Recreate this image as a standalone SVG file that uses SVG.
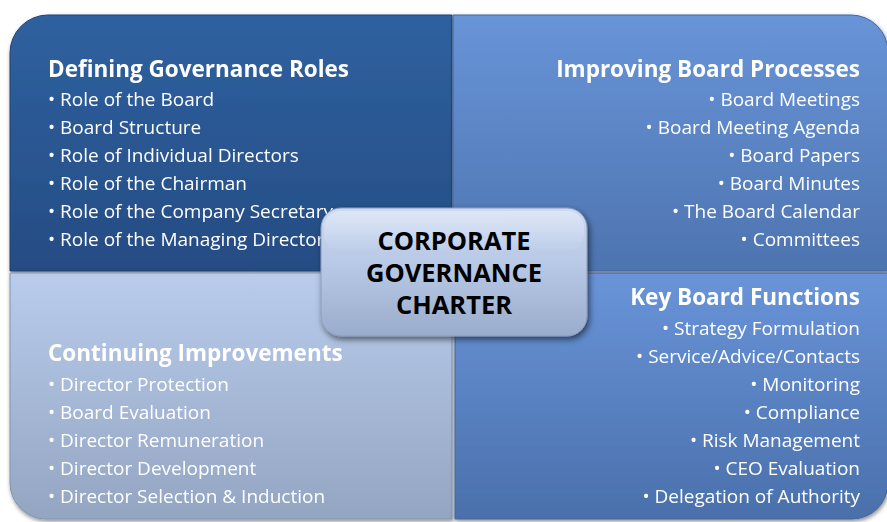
<svg xmlns="http://www.w3.org/2000/svg" width="887" height="522" viewBox="0 0 887 522">
<defs>
<linearGradient id="gTL" x1="0" y1="0" x2="0" y2="1"><stop offset="0" stop-color="#2F61A0"/><stop offset="1" stop-color="#254C83"/></linearGradient>
<linearGradient id="gTR" x1="0" y1="0" x2="0" y2="1"><stop offset="0" stop-color="#6894D8"/><stop offset="1" stop-color="#4D74AF"/></linearGradient>
<linearGradient id="gBL" x1="0" y1="0" x2="0" y2="1"><stop offset="0" stop-color="#B9CCEC"/><stop offset="1" stop-color="#93A5C1"/></linearGradient>
<linearGradient id="gBR" x1="0" y1="0" x2="0" y2="1"><stop offset="0" stop-color="#6994D9"/><stop offset="1" stop-color="#4A70AB"/></linearGradient>
<linearGradient id="gC" x1="0" y1="0" x2="0" y2="1"><stop offset="0" stop-color="#CCDAF2"/><stop offset="0.5" stop-color="#B5C6E4"/><stop offset="1" stop-color="#9AACCB"/></linearGradient>
<linearGradient id="hl" x1="0" y1="0" x2="0" y2="1"><stop offset="0" stop-color="#FFFFFF" stop-opacity="0.35"/><stop offset="1" stop-color="#FFFFFF" stop-opacity="0"/></linearGradient>
<filter id="sh" x="-10%" y="-10%" width="120%" height="120%"><feDropShadow dx="1" dy="2" stdDeviation="2" flood-color="#000" flood-opacity="0.45"/></filter>
<filter id="shc" x="-10%" y="-10%" width="125%" height="130%"><feDropShadow dx="2" dy="3" stdDeviation="3" flood-color="#000" flood-opacity="0.55"/></filter>
</defs>
<style>
text{font-family:"Open Sans","Noto Sans","DejaVu Sans",sans-serif;fill:#FFFFFF}
.t{font-weight:bold;font-size:22.5px}
.b{font-size:19px}
.r{text-anchor:end}
.c{font-weight:bold;font-size:25.5px;fill:#000000;text-anchor:middle}
.q{stroke-width:1}
</style>
<rect width="887" height="522" fill="#FFFFFF"/>
<g id="defining" filter="url(#sh)">
<path class="q" d="M10,53 A38,38 0 0 1 48,15 H452 V271 H10 Z" fill="url(#gTL)" stroke="#1F4272"/>
<text class="t" x="48" y="77">Defining Governance Roles</text>
<text class="b" x="48" y="106">• Role of the Board</text>
<text class="b" x="48" y="134">• Board Structure</text>
<text class="b" x="48" y="162">• Role of Individual Directors</text>
<text class="b" x="48" y="190">• Role of the Chairman</text>
<text class="b" x="48" y="218">• Role of the Company Secretary</text>
<text class="b" x="48" y="246">• Role of the Managing Director</text>
</g>
<g id="improving" filter="url(#sh)">
<path class="q" d="M453,15 H851 A37,37 0 0 1 888,52 V271 H453 Z" fill="url(#gTR)" stroke="#44679E"/>
<text class="t r" x="860" y="77">Improving Board Processes</text>
<text class="b r" x="860" y="106">• Board Meetings</text>
<text class="b r" x="860" y="134">• Board Meeting Agenda</text>
<text class="b r" x="860" y="162">• Board Papers</text>
<text class="b r" x="860" y="190">• Board Minutes</text>
<text class="b r" x="860" y="218">• The Board Calendar</text>
<text class="b r" x="860" y="246">• Committees</text>
</g>
<g id="continuing" filter="url(#sh)">
<path class="q" d="M10,273 H452 V519 H46 A36,36 0 0 1 10,483 Z" fill="url(#gBL)" stroke="#8193B0"/>
<text class="t" x="48" y="361">Continuing Improvements</text>
<text class="b" x="48" y="391">• Director Protection</text>
<text class="b" x="48" y="419">• Board Evaluation</text>
<text class="b" x="48" y="447">• Director Remuneration</text>
<text class="b" x="48" y="475">• Director Development</text>
<text class="b" x="48" y="503">• Director Selection &amp; Induction</text>
</g>
<g id="keyfunctions" filter="url(#sh)">
<path class="q" d="M455,273 H888 V483 A36,36 0 0 1 852,519 H455 Z" fill="url(#gBR)" stroke="#42659C"/>
<text class="t r" x="860" y="305">Key Board Functions</text>
<text class="b r" x="860" y="335">• Strategy Formulation</text>
<text class="b r" x="860" y="363">• Service/Advice/Contacts</text>
<text class="b r" x="860" y="391">• Monitoring</text>
<text class="b r" x="860" y="419">• Compliance</text>
<text class="b r" x="860" y="447">• Risk Management</text>
<text class="b r" x="860" y="475">• CEO Evaluation</text>
<text class="b r" x="860" y="503">• Delegation of Authority</text>
</g>
<g id="center">
<rect x="321" y="208" width="266" height="128" rx="20" fill="url(#gC)" stroke="#8A9CBB" filter="url(#shc)"/>
<rect x="324" y="211" width="260" height="40" rx="17" fill="url(#hl)"/>
<text class="c" x="454" y="250">CORPORATE</text>
<text class="c" x="454" y="282">GOVERNANCE</text>
<text class="c" x="454" y="314">CHARTER</text>
</g>
</svg>
